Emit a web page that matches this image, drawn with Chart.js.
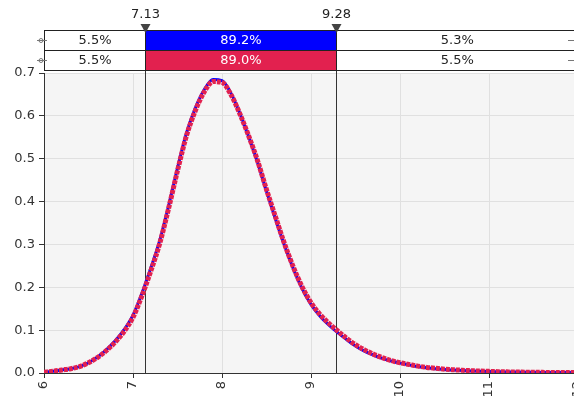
<!DOCTYPE html>
<html>
<head>
<meta charset="utf-8">
<script src="https://cdn.jsdelivr.net/npm/chart.js@4"></script>
<style>
	html, body { margin: 0; padding: 0; background: #fff; overflow: hidden; }
	#wrap { width: 586px; height: 403px; }
</style>
</head>
<body>
<div id="wrap"><canvas id="grafico" width="586" height="403"></canvas></div>
<script>
const BLUE = "#0000ff";
const RED = "#e2214f";
const FONT = "DejaVu Sans";

// asse x (valori)
const xValues = [6.0, 6.1, 6.2, 6.3, 6.4, 6.5, 6.6, 6.7, 6.8, 6.9,
	7.0, 7.1, 7.2, 7.3, 7.4, 7.5, 7.6, 7.7, 7.8, 7.9,
	8.0, 8.1, 8.2, 8.3, 8.4, 8.5, 8.6, 8.7, 8.8, 8.9,
	9.0, 9.1, 9.2, 9.3, 9.4, 9.5, 9.6, 9.7, 9.8, 9.9,
	10.0, 10.1, 10.2, 10.3, 10.4, 10.5, 10.6, 10.7, 10.8, 10.9,
	11.0, 11.1, 11.2, 11.3, 11.4, 11.5, 11.6, 11.7, 11.8, 11.9, 12.0];

const blueValues = [0.002, 0.004, 0.007, 0.010, 0.015, 0.024, 0.037, 0.054, 0.075, 0.101,
	0.135, 0.186, 0.245, 0.309, 0.390, 0.478, 0.559, 0.618, 0.661, 0.685,
	0.682, 0.653, 0.606, 0.551, 0.491, 0.424, 0.360, 0.299, 0.244, 0.197,
	0.160, 0.133, 0.112, 0.094, 0.078, 0.063, 0.051, 0.042, 0.034, 0.028,
	0.023, 0.019, 0.015, 0.012, 0.010, 0.008, 0.0068, 0.0057, 0.0048, 0.0040,
	0.0034, 0.0029, 0.0024, 0.0021, 0.0018, 0.0015, 0.0013, 0.0011, 0.0010, 0.0009, 0.0008];

const redValues = [0.002, 0.004, 0.007, 0.010, 0.015, 0.024, 0.036, 0.052, 0.072, 0.097,
	0.130, 0.180, 0.238, 0.302, 0.384, 0.472, 0.553, 0.612, 0.656, 0.680,
	0.678, 0.650, 0.605, 0.553, 0.495, 0.428, 0.365, 0.303, 0.248, 0.201,
	0.164, 0.137, 0.116, 0.098, 0.081, 0.066, 0.054, 0.044, 0.036, 0.029,
	0.024, 0.020, 0.016, 0.013, 0.011, 0.009, 0.0076, 0.0064, 0.0054, 0.0045,
	0.0038, 0.0032, 0.0027, 0.0023, 0.0020, 0.0017, 0.0015, 0.0013, 0.0011, 0.0010, 0.0009];

// delimitatori e percentuali della barra in alto
const markers = [7.13, 9.28];
const markerLabels = ["7.13", "9.28"];
const blueBand = ["5.5%", "89.2%", "5.3%"];
const redBand = ["5.5%", "89.0%", "5.5%"];

const yTicks = [0, 0.1, 0.2, 0.3, 0.4, 0.5, 0.6, 0.7];
const xTicks = [6, 7, 8, 9, 10, 11, 12];

window.onload = function () {
	let canvas = document.getElementById("grafico");
	loadGrafico(canvas);
}

function toPoints(xs, ys) {
	let pts = [];
	for (let i = 0; i < xs.length; i++) pts.push({ x: xs[i], y: ys[i] });
	return pts;
}

const headerPlugin = {
	id: "header",
	beforeDraw(chart) {
		let ctx = chart.ctx;
		let a = chart.chartArea;
		ctx.save();
		ctx.fillStyle = "#f5f5f5";
		ctx.fillRect(a.left, a.top, a.right - a.left, a.bottom - a.top);
		ctx.restore();
	},
	beforeDatasetsDraw(chart) {
		let ctx = chart.ctx;
		let xs = chart.scales.x;
		ctx.save();
		ctx.strokeStyle = "#333";
		ctx.lineWidth = 1;
		for (const m of markers) {
			let px = Math.round(xs.getPixelForValue(m)) + 0.5;
			ctx.beginPath();
			ctx.moveTo(px, 30);
			ctx.lineTo(px, chart.chartArea.bottom);
			ctx.stroke();
		}
		ctx.restore();
	},
	afterDraw(chart) {
		let ctx = chart.ctx;
		let xs = chart.scales.x;
		let left = chart.chartArea.left;
		let right = chart.chartArea.right;
		let p1 = Math.round(xs.getPixelForValue(markers[0])) + 0.5;
		let p2 = Math.round(xs.getPixelForValue(markers[1])) + 0.5;
		let rows = [{ top: 30.5, texts: blueBand, color: BLUE }, { top: 50.5, texts: redBand, color: RED }];
		ctx.save();
		ctx.font = "13px '" + FONT + "'";
		ctx.textAlign = "center";
		ctx.textBaseline = "middle";
		for (const row of rows) {
			let segs = [[left + 0.5, p1], [p1, p2], [p2, right]];
			for (let i = 0; i < 3; i++) {
				let s = segs[i];
				ctx.fillStyle = i == 1 ? row.color : "#fff";
				ctx.fillRect(s[0], row.top, s[1] - s[0], 20);
				ctx.strokeStyle = "#222";
				ctx.lineWidth = 1;
				ctx.strokeRect(s[0], row.top, s[1] - s[0], 20);
				ctx.fillStyle = i == 1 ? "#fff" : "#222";
				ctx.fillText(row.texts[i], (s[0] + s[1]) / 2, row.top + 10.5);
			}
			// piccoli cursori ai lati
			let cy = row.top + 10;
			ctx.strokeStyle = "#777";
			ctx.beginPath();
			ctx.moveTo(37, cy); ctx.lineTo(47, cy);
			ctx.moveTo(568, cy); ctx.lineTo(574, cy);
			ctx.stroke();
			ctx.beginPath();
			ctx.arc(41, cy, 2, 0, Math.PI * 2);
			ctx.stroke();
		}
		// etichette e triangoli dei delimitatori
		ctx.font = "13px '" + FONT + "'";
		for (let i = 0; i < markers.length; i++) {
			let px = i == 0 ? p1 : p2;
			ctx.fillStyle = "#222";
			ctx.fillText(markerLabels[i], px, 15);
			ctx.fillStyle = "#444";
			ctx.beginPath();
			ctx.moveTo(px - 5, 24);
			ctx.lineTo(px + 5, 24);
			ctx.lineTo(px, 33);
			ctx.closePath();
			ctx.fill();
		}
		ctx.restore();
	}
};

function loadGrafico(canvas) {
	let data = {
		type: "line",
		data: {
			datasets: [{
				label: "rosso",
				data: toPoints(xValues, redValues),
				borderColor: RED,
				borderWidth: 5,
				borderDash: [4, 1],
				pointRadius: 0,
				cubicInterpolationMode: "monotone",
				order: 1
			}, {
				label: "blu",
				data: toPoints(xValues, blueValues),
				borderColor: BLUE,
				borderWidth: 3,
				pointRadius: 0,
				cubicInterpolationMode: "monotone",
				order: 2
			}]
		},
		options: {
			responsive: false,
			animation: false,
			devicePixelRatio: 1,
			layout: { padding: { top: 73, right: 8, left: 0, bottom: 0 } },
			plugins: { legend: { display: false }, tooltip: { enabled: false } },
			scales: {
				x: {
					type: "linear",
					min: xTicks[0],
					max: xTicks[xTicks.length - 1],
					afterBuildTicks: (s) => { s.ticks = xTicks.map(v => ({ value: v })); },
					afterFit: (s) => { s.height = 30; s.paddingLeft = 0; s.paddingRight = 0; },
					ticks: {
						minRotation: 90, maxRotation: 90, padding: 3,
						color: "#333", font: { family: FONT, size: 13 },
						callback: (v) => String(v)
					},
					grid: { color: "#e0e0e0", tickColor: "#333", tickLength: 5 },
					border: { color: "#333", width: 1 }
				},
				y: {
					min: 0,
					max: 0.7,
					afterBuildTicks: (s) => { s.ticks = yTicks.map(v => ({ value: v })); },
					afterFit: (s) => { s.width = 44; },
					ticks: {
						padding: 4, color: "#333", font: { family: FONT, size: 13 },
						callback: (v) => v.toFixed(1)
					},
					grid: { color: "#e0e0e0", tickColor: "#333", tickLength: 5 },
					border: { color: "#333", width: 1 }
				}
			}
		},
		plugins: [headerPlugin]
	};
	chart = new Chart(canvas, data);
}
</script>
</body>
</html>
